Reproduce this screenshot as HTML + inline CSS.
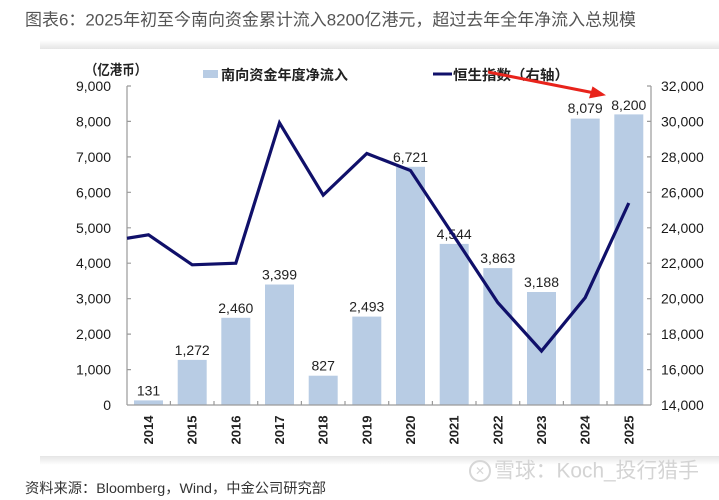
<!DOCTYPE html>
<html>
<head>
<meta charset="utf-8">
<style>
  html,body{margin:0;padding:0;background:#fff;}
  body{width:719px;height:500px;position:relative;overflow:hidden;}
  .sh-top{position:absolute;left:40px;top:40px;width:700px;height:9px;background:linear-gradient(to bottom,rgba(0,0,0,0),rgba(0,0,0,0.10));}
  .sh-bot{position:absolute;left:40px;top:456px;width:700px;height:9px;background:linear-gradient(to top,rgba(0,0,0,0),rgba(0,0,0,0.10));}
  svg{position:absolute;left:0;top:0;}
  text{font-family:"Liberation Sans","Noto Sans CJK SC",sans-serif;}
</style>
</head>
<body>
<div class="sh-top"></div>
<div class="sh-bot"></div>
<svg width="719" height="500" viewBox="0 0 719 500" xmlns="http://www.w3.org/2000/svg">
  <!-- Title -->
  <text x="25" y="20" font-size="17" fill="#555" dominant-baseline="central" textLength="611" lengthAdjust="spacingAndGlyphs">图表6：2025年初至今南向资金累计流入8200亿港元，超过去年全年净流入总规模</text>

  <!-- Unit label -->
  <text x="85" y="70" font-size="14" font-weight="bold" fill="#222" dominant-baseline="central" textLength="62" lengthAdjust="spacingAndGlyphs">（亿港币）</text>

  <!-- Legend -->
  <rect x="203" y="70" width="15" height="8" fill="#b8cce4"/>
  <text x="221" y="75" font-size="14" font-weight="bold" fill="#222" dominant-baseline="central" textLength="127" lengthAdjust="spacingAndGlyphs">南向资金年度净流入</text>
  <line x1="433" y1="74" x2="452" y2="74" stroke="#10106a" stroke-width="3"/>
  <text x="453" y="75" font-size="14" font-weight="bold" fill="#222" dominant-baseline="central" textLength="116" lengthAdjust="spacingAndGlyphs">恒生指数（右轴）</text>

  <!-- Bars -->
  <g fill="#b8cce4">
    <rect x="134.0" y="400.4" width="29" height="4.6"/>
    <rect x="177.7" y="359.9" width="29" height="45.1"/>
    <rect x="221.3" y="317.8" width="29" height="87.2"/>
    <rect x="265.0" y="284.5" width="29" height="120.5"/>
    <rect x="308.7" y="375.7" width="29" height="29.3"/>
    <rect x="352.3" y="316.6" width="29" height="88.4"/>
    <rect x="396.0" y="166.8" width="29" height="238.2"/>
    <rect x="439.7" y="243.9" width="29" height="161.1"/>
    <rect x="483.3" y="268.1" width="29" height="136.9"/>
    <rect x="527.0" y="292.0" width="29" height="113.0"/>
    <rect x="570.7" y="118.6" width="29" height="286.4"/>
    <rect x="614.3" y="114.4" width="29" height="290.6"/>
  </g>

  <!-- Bar labels -->
  <g font-size="14" fill="#222" text-anchor="middle">
    <text x="148.5" y="395.4">131</text>
    <text x="192.2" y="354.9">1,272</text>
    <text x="235.8" y="312.8">2,460</text>
    <text x="279.5" y="279.5">3,399</text>
    <text x="323.2" y="370.7">827</text>
    <text x="366.8" y="311.6">2,493</text>
    <text x="410.5" y="161.8">6,721</text>
    <text x="454.2" y="238.9">4,544</text>
    <text x="497.8" y="263.1">3,863</text>
    <text x="541.5" y="287.0">3,188</text>
    <text x="585.2" y="113.0">8,079</text>
    <text x="628.8" y="110.0">8,200</text>
  </g>

  <!-- Axes -->
  <g stroke="#9a9a9a" stroke-width="1.2" fill="none">
    <line x1="127" y1="86" x2="127" y2="405"/>
    <line x1="651" y1="86" x2="651" y2="405"/>
    <line x1="127" y1="405" x2="651" y2="405"/>
    <path d="M127 86h4M127 121.4h4M127 156.9h4M127 192.3h4M127 227.8h4M127 263.2h4M127 298.7h4M127 334.1h4M127 369.6h4"/>
    <path d="M651 86h-4M651 121.4h-4M651 156.9h-4M651 192.3h-4M651 227.8h-4M651 263.2h-4M651 298.7h-4M651 334.1h-4M651 369.6h-4"/>
    <path d="M170.4 405v-4M214 405v-4M257.7 405v-4M301.4 405v-4M345 405v-4M388.7 405v-4M432.4 405v-4M476 405v-4M519.7 405v-4M563.4 405v-4M607 405v-4"/>
  </g>

  <!-- Left axis labels -->
  <g font-size="14" fill="#1a1a1a" text-anchor="end" dominant-baseline="central">
    <text x="111" y="86">9,000</text>
    <text x="111" y="121.4">8,000</text>
    <text x="111" y="156.9">7,000</text>
    <text x="111" y="192.3">6,000</text>
    <text x="111" y="227.8">5,000</text>
    <text x="111" y="263.2">4,000</text>
    <text x="111" y="298.7">3,000</text>
    <text x="111" y="334.1">2,000</text>
    <text x="111" y="369.6">1,000</text>
    <text x="111" y="405">0</text>
  </g>

  <!-- Right axis labels -->
  <g font-size="14" fill="#1a1a1a" dominant-baseline="central">
    <text x="661" y="86">32,000</text>
    <text x="661" y="121.4">30,000</text>
    <text x="661" y="156.9">28,000</text>
    <text x="661" y="192.3">26,000</text>
    <text x="661" y="227.8">24,000</text>
    <text x="661" y="263.2">22,000</text>
    <text x="661" y="298.7">20,000</text>
    <text x="661" y="334.1">18,000</text>
    <text x="661" y="369.6">16,000</text>
    <text x="661" y="405">14,000</text>
  </g>

  <!-- X axis labels -->
  <g font-size="13" font-weight="bold" fill="#222" text-anchor="middle" dominant-baseline="central">
    <text x="148.5" y="430" transform="rotate(-90 148.5 430)">2014</text>
    <text x="192.2" y="430" transform="rotate(-90 192.2 430)">2015</text>
    <text x="235.8" y="430" transform="rotate(-90 235.8 430)">2016</text>
    <text x="279.5" y="430" transform="rotate(-90 279.5 430)">2017</text>
    <text x="323.2" y="430" transform="rotate(-90 323.2 430)">2018</text>
    <text x="366.8" y="430" transform="rotate(-90 366.8 430)">2019</text>
    <text x="410.5" y="430" transform="rotate(-90 410.5 430)">2020</text>
    <text x="454.2" y="430" transform="rotate(-90 454.2 430)">2021</text>
    <text x="497.8" y="430" transform="rotate(-90 497.8 430)">2022</text>
    <text x="541.5" y="430" transform="rotate(-90 541.5 430)">2023</text>
    <text x="585.2" y="430" transform="rotate(-90 585.2 430)">2024</text>
    <text x="628.8" y="430" transform="rotate(-90 628.8 430)">2025</text>
  </g>

  <!-- HSI line -->
  <polyline fill="none" stroke="#10106a" stroke-width="3.2" stroke-linejoin="miter"
    points="127,238.3 148.5,234.8 192.2,264.8 235.8,263.2 279.5,122.9 323.2,195.1 366.8,153.5 410.5,170.5 454.2,236.5 497.8,302.6 541.5,351.0 585.2,297.6 628.8,203.0"/>

  <!-- Red arrow -->
  <line x1="488" y1="72" x2="592" y2="92.5" stroke="#e8231b" stroke-width="3"/>
  <polygon points="606,95.2 589,98.4 592.5,86.4" fill="#e8231b"/>

  <!-- Footer -->
  <text x="25" y="488" font-size="14" fill="#333" dominant-baseline="central" textLength="301" lengthAdjust="spacingAndGlyphs">资料来源：Bloomberg，Wind，中金公司研究部</text>

  <!-- Watermark -->
  <circle cx="480" cy="471" r="10" fill="none" stroke="#d6d6d6" stroke-width="2"/>
  <text x="480" y="471" font-size="12" fill="#d6d6d6" text-anchor="middle" dominant-baseline="central">✕</text>
  <text x="494" y="471" font-size="21" fill="#d4d4d4" dominant-baseline="central" textLength="205" lengthAdjust="spacingAndGlyphs">雪球：Koch_投行猎手</text>
</svg>
</body>
</html>
